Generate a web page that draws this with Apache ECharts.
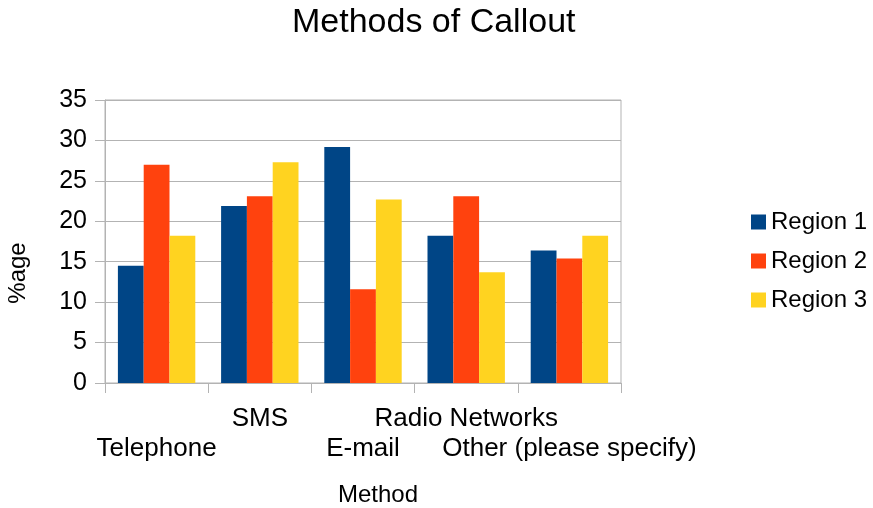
<!DOCTYPE html>
<html>
<head>
<meta charset="utf-8">
<script src="https://cdn.jsdelivr.net/npm/echarts@6/dist/echarts.min.js"></script>
<style>html,body{margin:0;padding:0;background:#fff}#c{width:873px;height:508px}</style>
</head>
<body>
<div id="c"></div>
<script>
var categories = ['Telephone', 'SMS', 'E-mail', 'Radio Networks', 'Other (please specify)'];
var region1 = [14.5, 21.9, 29.2, 18.2, 16.4];
var region2 = [27.0, 23.1, 11.6, 23.1, 15.4];
var region3 = [18.2, 27.3, 22.7, 13.7, 18.2];
var seriesNames = ['Region 1', 'Region 2', 'Region 3'];
var colors = ['#004586', '#ff420e', '#ffd320'];
var yTicks = [0, 5, 10, 15, 20, 25, 30, 35];

var FONT = 'Liberation Sans, Arial, sans-serif';
var chart = echarts.init(document.getElementById('c'), null, {renderer: 'canvas'});
var seriesData = [region1, region2, region3];
chart.setOption({
  animation: false,
  backgroundColor: '#ffffff',
  title: {
    text: 'Methods of Callout',
    left: 287,
    top: 1,
    textStyle: {fontFamily: FONT, fontSize: 34, fontWeight: 'normal', color: '#000'}
  },
  legend: {
    orient: 'vertical',
    left: 746,
    top: 205,
    itemWidth: 15,
    itemHeight: 15,
    itemGap: 15,
    itemTextGap: 10,
    icon: 'rect',
    textStyle: {fontFamily: FONT, fontSize: 24, color: '#000'},
    data: seriesNames
  },
  grid: {
    left: 105, right: 252, top: 100, bottom: 125,
    outerBoundsMode: 'none',
    containLabel: false,
    show: true, borderColor: '#b3b3b3', borderWidth: 1, backgroundColor: 'transparent'
  },
  xAxis: {
    type: 'category',
    data: categories,
    name: 'Method',
    nameLocation: 'middle',
    nameGap: 100,
    nameTextStyle: {fontFamily: FONT, fontSize: 24, color: '#000', padding: [0, 0, 0, 30]},
    axisLine: {lineStyle: {color: '#b3b3b3', width: 1}},
    axisTick: {show: true, length: 10, lineStyle: {color: '#b3b3b3'}},
    axisLabel: {
      interval: 0,
      margin: 21,
      fontFamily: FONT, fontSize: 26, color: '#000', lineHeight: 30,
      formatter: function (v, i) { return i % 2 === 0 ? '\n' + v : v; }
    }
  },
  yAxis: {
    type: 'value',
    min: yTicks[0],
    max: yTicks[yTicks.length - 1],
    interval: 5,
    axisLine: {show: true, lineStyle: {color: '#b3b3b3', width: 1}},
    axisTick: {show: true, length: 10, lineStyle: {color: '#b3b3b3'}},
    axisLabel: {margin: 18, fontFamily: FONT, fontSize: 25, color: '#000'},
    splitLine: {lineStyle: {color: '#b3b3b3', width: 1}}
  },
  graphic: [{
    type: 'text',
    x: 18, y: 273,
    rotation: Math.PI / 2,
    style: {text: '%age', fontFamily: FONT, fontSize: 24, fill: '#000', textAlign: 'center', textVerticalAlign: 'middle'}
  }],
  series: seriesNames.map(function (n, k) {
    return {
      name: n,
      type: 'bar',
      data: seriesData[k],
      itemStyle: {color: colors[k]},
      barGap: '0%',
      barCategoryGap: '25%'
    };
  })
});
</script>
</body>
</html>
